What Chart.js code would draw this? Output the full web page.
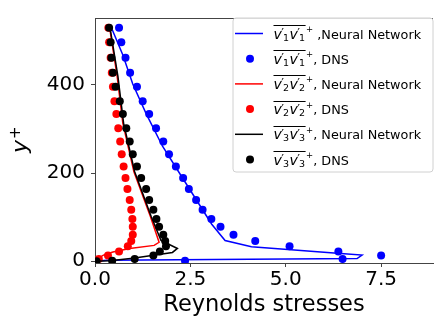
<!DOCTYPE html>
<html>
<head>
<meta charset="utf-8">
<script src="https://cdn.jsdelivr.net/npm/chart.js@4.4.1/dist/chart.umd.min.js"></script>
<style>
  html, body { margin: 0; padding: 0; background: #fff; }
  #wrap { width: 437px; height: 324px; }
</style>
</head>
<body>
<div id="wrap"><canvas id="chart" width="437" height="324"></canvas></div>
<script>
// DATA
// DNS samples share one y+ grid
const dnsYPlus = [0, 1, 5, 13, 22, 34, 46, 60, 78, 96, 117, 139, 164, 189, 215, 243, 272, 302, 334, 363, 396, 428, 462, 497, 530];
const dnsV1 = [0.0, 2.36, 6.49, 7.50, 6.38, 5.10, 4.20, 3.63, 3.29, 3.05, 2.82, 2.65, 2.46, 2.31, 2.12, 1.94, 1.79, 1.60, 1.42, 1.25, 1.10, 0.92, 0.80, 0.69, 0.63];
const dnsV2 = [0.0, 0.03, 0.10, 0.34, 0.63, 0.86, 0.95, 0.99, 0.99, 0.98, 0.95, 0.91, 0.85, 0.80, 0.75, 0.70, 0.66, 0.61, 0.56, 0.51, 0.47, 0.44, 0.41, 0.37, 0.35];
const dnsV3 = [0.04, 0.45, 1.04, 1.53, 1.70, 1.86, 1.84, 1.79, 1.68, 1.61, 1.53, 1.42, 1.34, 1.21, 1.10, 0.99, 0.91, 0.82, 0.73, 0.65, 0.54, 0.47, 0.43, 0.41, 0.37];

// Neural network curves (x, y+) in drawing order
const nn1X = [0.0, 0.30, 6.87, 7.00, 6.35, 4.10, 3.41, 3.06, 2.63, 2.20, 1.77, 1.34, 0.99, 0.73, 0.45];
const nn1Y = [0, 2, 6, 14, 18, 33, 47, 84, 143, 202, 261, 335, 402, 468, 526];
const nn2X = [0.0, 0.04, 0.22, 0.47, 0.91, 1.55, 1.68, 1.45, 1.02, 0.73, 0.58, 0.38];
const nn2Y = [0, 4, 14, 21, 29, 36, 43, 102, 203, 313, 420, 532];
const nn3X = [0.0, 0.39, 0.99, 2.03, 2.16, 1.73, 1.47, 1.04, 0.75, 0.60, 0.39];
const nn3Y = [0, 1, 7, 20, 29, 47, 102, 203, 313, 420, 532];

const xTicks = [0, 2.5, 5, 7.5];
const yTicks = [0, 200, 400];

const FONT = "DejaVu Sans";

function pts(xs, ys) {
  return xs.map((x, i) => ({ x, y: ys[i] }));
}

function lineSet(xs, ys, color, order) {
  return {
    data: pts(xs, ys),
    showLine: true,
    borderColor: color,
    borderWidth: 1.5,
    pointRadius: 0,
    order
  };
}

function dotSet(xs, ys, color, order) {
  return {
    data: pts(xs, ys),
    showLine: false,
    backgroundColor: color,
    borderWidth: 0,
    pointRadius: 4,
    order
  };
}

// legend rows: color, dots or line, subscript index, trailing text
const legendRows = [
  { color: "#0000ff", kind: "line", k: "1", text: " ,Neural Network" },
  { color: "#0000ff", kind: "dot", k: "1", text: ", DNS" },
  { color: "#ff0000", kind: "line", k: "2", text: ", Neural Network" },
  { color: "#ff0000", kind: "dot", k: "2", text: ", DNS" },
  { color: "#000000", kind: "line", k: "3", text: ", Neural Network" },
  { color: "#000000", kind: "dot", k: "3", text: ", DNS" }
];

// draws overline{v'_k v'_k}^+ and returns the x where it ends
function drawMath(ctx, x, base, k) {
  const x0 = x;
  for (let r = 0; r < 2; r++) {
    ctx.font = `italic 14px ${FONT}`;
    ctx.fillText("v", x, base);
    x += ctx.measureText("v").width - 0.5;
    ctx.font = `12px ${FONT}`;
    ctx.fillText("′", x, base - 1.5);
    x += ctx.measureText("′").width - 1;
    ctx.font = `9.5px ${FONT}`;
    ctx.fillText(k, x, base + 2);
    x += ctx.measureText(k).width + 0.5;
  }
  const oy = Math.round(base - 13.5) + 0.5;
  ctx.beginPath();
  ctx.lineWidth = 1;
  ctx.moveTo(x0, oy);
  ctx.lineTo(x, oy);
  ctx.stroke();
  x += 0.5;
  ctx.font = `8.5px ${FONT}`;
  ctx.fillText("+", x, base - 6.5);
  x += ctx.measureText("+").width;
  return x;
}

const decorPlugin = {
  id: "decor",
  afterDraw(chart) {
    const ctx = chart.ctx;
    const a = chart.chartArea;
    ctx.save();

    // top spine
    ctx.strokeStyle = "#444";
    ctx.lineWidth = 1;
    ctx.beginPath();
    ctx.moveTo(a.left, a.top + 0.5);
    ctx.lineTo(a.right, a.top + 0.5);
    ctx.stroke();

    // axis titles
    ctx.fillStyle = "#000";
    ctx.textAlign = "center";
    ctx.textBaseline = "alphabetic";
    ctx.font = `22.5px ${FONT}`;
    ctx.fillText("Reynolds stresses", (a.left + a.right) / 2, 311);

    ctx.save();
    ctx.translate(27, 139);
    ctx.rotate(-Math.PI / 2);
    ctx.textAlign = "left";
    ctx.font = `italic 22px ${FONT}`;
    ctx.fillText("y", -14, 0);
    const yw = ctx.measureText("y").width;
    ctx.font = `15px ${FONT}`;
    ctx.fillText("+", -14 + yw + 1, -7);
    ctx.restore();

    // legend box
    const bx = 233, by = 18, bw = 200, bh = 154, rad = 3;
    ctx.beginPath();
    ctx.moveTo(bx + rad, by);
    ctx.arcTo(bx + bw, by, bx + bw, by + bh, rad);
    ctx.arcTo(bx + bw, by + bh, bx, by + bh, rad);
    ctx.arcTo(bx, by + bh, bx, by, rad);
    ctx.arcTo(bx, by, bx + bw, by, rad);
    ctx.closePath();
    ctx.fillStyle = "rgba(255,255,255,0.85)";
    ctx.fill();
    ctx.strokeStyle = "#d0d0d0";
    ctx.lineWidth = 1;
    ctx.stroke();

    ctx.textAlign = "left";
    legendRows.forEach((row, i) => {
      const cy = 33.5 + i * 25.2;
      if (row.kind === "line") {
        ctx.strokeStyle = row.color;
        ctx.lineWidth = 1.5;
        ctx.beginPath();
        ctx.moveTo(235, cy);
        ctx.lineTo(263, cy);
        ctx.stroke();
      } else {
        ctx.fillStyle = row.color;
        ctx.beginPath();
        ctx.arc(250, cy, 4, 0, Math.PI * 2);
        ctx.fill();
      }
      ctx.fillStyle = "#000";
      ctx.strokeStyle = "#000";
      const base = cy + 5;
      const xe = drawMath(ctx, 273.5, base, row.k);
      ctx.font = `12.8px ${FONT}`;
      ctx.fillText(row.text, xe, base);
    });

    ctx.restore();
  }
};

new Chart(document.getElementById("chart"), {
  type: "scatter",
  data: {
    datasets: [
      lineSet(nn1X, nn1Y, "#0000ff", 6),
      dotSet(dnsV1, dnsYPlus, "#0000ff", 5),
      lineSet(nn2X, nn2Y, "#ff0000", 4),
      dotSet(dnsV2, dnsYPlus, "#ff0000", 3),
      lineSet(nn3X, nn3Y, "#000000", 2),
      dotSet(dnsV3, dnsYPlus, "#000000", 1)
    ]
  },
  options: {
    responsive: false,
    animation: false,
    layout: { padding: { top: 12, right: 0, left: 0, bottom: 0 } },
    plugins: {
      legend: { display: false },
      tooltip: { enabled: false }
    },
    scales: {
      x: {
        type: "linear",
        min: 0,
        max: 8.86,
        afterFit: s => { s.height = 61; },
        afterBuildTicks: s => { s.ticks = xTicks.map(v => ({ value: v })); },
        border: { display: true, color: "#444", width: 1 },
        grid: { drawOnChartArea: false, drawTicks: true, tickLength: 4, color: "#444" },
        ticks: {
          color: "#000",
          padding: 1,
          maxRotation: 0,
          font: { family: FONT, size: 20 },
          callback: v => v.toFixed(1)
        }
      },
      y: {
        type: "linear",
        min: -4,
        max: 552,
        afterFit: s => { s.width = 95; },
        afterBuildTicks: s => { s.ticks = yTicks.map(v => ({ value: v })); },
        border: { display: true, color: "#444", width: 1 },
        grid: { drawOnChartArea: false, drawTicks: true, tickLength: 4, color: "#444" },
        ticks: {
          color: "#000",
          padding: 6,
          font: { family: FONT, size: 20 },
          callback: v => String(v)
        }
      }
    }
  },
  plugins: [decorPlugin]
});
</script>
</body>
</html>
